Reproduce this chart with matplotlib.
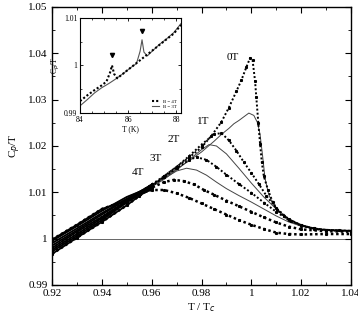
import matplotlib
matplotlib.use('Agg')
import matplotlib.pyplot as plt

plt.rcParams['font.family'] = ['Liberation Serif', 'DejaVu Serif']

# ---- main panel: C_p/T vs T/Tc for several fields ----
fields = ['0T', '1T', '1.5T', '2T', '2.5T', '3T', '3.5T', '4T']
dotted = {'0T': True, '1T': False, '1.5T': True, '2T': False,
          '2.5T': True, '3T': False, '3.5T': True, '4T': True}

t_0 = [0.920, 0.930, 0.940, 0.950, 0.960, 0.965, 0.970, 0.975, 0.980, 0.984, 0.988,
       0.991, 0.994, 0.996, 0.998, 0.9995, 1.0005, 1.0015, 1.002, 1.0028, 1.0035,
       1.0042, 1.005, 1.0067, 1.0085, 1.0105, 1.013, 1.016, 1.020, 1.025, 1.030, 1.040]
c_0 = [0.9980, 1.0015, 1.0047, 1.0082, 1.0117, 1.0135, 1.0155, 1.0175, 1.0197, 1.0222, 1.0252,
       1.0283, 1.0318, 1.0342, 1.0370, 1.0390, 1.0385, 1.0340, 1.0305, 1.0250, 1.0205,
       1.0165, 1.0135, 1.0105, 1.0080, 1.0062, 1.0048, 1.0038, 1.0029, 1.0022, 1.0019, 1.0017]

t_1 = [0.920, 0.930, 0.940, 0.950, 0.960, 0.965, 0.970, 0.975, 0.980, 0.985, 0.988, 0.991,
       0.993, 0.995, 0.997, 0.999, 1.001, 1.0025, 1.0035, 1.0045, 1.0055, 1.007, 1.009,
       1.012, 1.016, 1.020, 1.025, 1.030, 1.040]
c_1 = [0.9990, 1.0022, 1.0055, 1.0086, 1.0116, 1.0132, 1.0150, 1.0168, 1.0187, 1.0210, 1.0225, 1.0238,
       1.0248, 1.0255, 1.0263, 1.0271, 1.0266, 1.0250, 1.0225, 1.0180, 1.0130, 1.0095, 1.0072,
       1.0053, 1.0038, 1.0029, 1.0022, 1.0019, 1.0017]

t_15 = [0.920, 0.930, 0.940, 0.950, 0.960, 0.965, 0.970, 0.975, 0.980, 0.985, 0.988, 0.991,
        0.994, 0.997, 1.000, 1.003, 1.006, 1.010, 1.015, 1.020, 1.025, 1.030, 1.035, 1.040]
c_15 = [0.9972, 1.0006, 1.0040, 1.0078, 1.0112, 1.0135, 1.0155, 1.0178, 1.0203, 1.0225, 1.0228, 1.0212,
        1.0190, 1.0165, 1.0142, 1.0118, 1.0093, 1.0066, 1.0042, 1.0029, 1.0022, 1.0019, 1.0018, 1.0017]

t_2 = [0.920, 0.930, 0.940, 0.950, 0.960, 0.965, 0.970, 0.975, 0.980, 0.983, 0.986, 0.990,
       0.995, 1.000, 1.005, 1.010, 1.015, 1.020, 1.025, 1.030, 1.040]
c_2 = [0.9995, 1.0027, 1.0060, 1.0090, 1.0112, 1.0128, 1.0148, 1.0170, 1.0192, 1.0203, 1.0200, 1.0183,
       1.0152, 1.0120, 1.0090, 1.0064, 1.0043, 1.0030, 1.0023, 1.0019, 1.0017]

t_25 = [0.920, 0.930, 0.940, 0.950, 0.960, 0.965, 0.970, 0.975, 0.978, 0.982, 0.986, 0.990,
        0.995, 1.000, 1.005, 1.010, 1.015, 1.020, 1.025, 1.030, 1.040]
c_25 = [0.9976, 1.0010, 1.0044, 1.0080, 1.0115, 1.0132, 1.0152, 1.0170, 1.0176, 1.0170, 1.0155, 1.0138,
        1.0118, 1.0099, 1.0078, 1.0058, 1.0040, 1.0028, 1.0021, 1.0018, 1.0016]

t_3 = [0.920, 0.930, 0.940, 0.950, 0.960, 0.965, 0.970, 0.974, 0.978, 0.982, 0.986, 0.990,
       0.995, 1.000, 1.005, 1.010, 1.015, 1.020, 1.025, 1.030, 1.040]
c_3 = [0.9985, 1.0018, 1.0052, 1.0085, 1.0113, 1.0130, 1.0146, 1.0152, 1.0148, 1.0137, 1.0122, 1.0108,
       1.0093, 1.0079, 1.0064, 1.0049, 1.0036, 1.0027, 1.0021, 1.0018, 1.0016]

t_35 = [0.920, 0.930, 0.940, 0.950, 0.955, 0.960, 0.965, 0.969, 0.973, 0.977, 0.981, 0.985,
        0.990, 0.995, 1.000, 1.005, 1.010, 1.015, 1.020, 1.030, 1.040]
c_35 = [0.9967, 1.0002, 1.0036, 1.0072, 1.0092, 1.0110, 1.0122, 1.0127, 1.0124, 1.0117, 1.0105, 1.0095,
        1.0082, 1.0070, 1.0058, 1.0046, 1.0035, 1.0026, 1.0020, 1.0016, 1.0015]

t_4 = [0.920, 0.930, 0.940, 0.950, 0.955, 0.960, 0.965, 0.970, 0.975, 0.980, 0.985, 0.990,
       0.995, 1.000, 1.005, 1.010, 1.015, 1.020, 1.030, 1.040]
c_4 = [0.9998, 1.0030, 1.0064, 1.0083, 1.0097, 1.0105, 1.0105, 1.0098, 1.0088, 1.0076, 1.0064, 1.0052,
       1.0040, 1.0030, 1.0021, 1.0013, 1.0010, 1.0009, 1.0010, 1.0010]

curves = {'0T': (t_0, c_0), '1T': (t_1, c_1), '1.5T': (t_15, c_15), '2T': (t_2, c_2),
          '2.5T': (t_25, c_25), '3T': (t_3, c_3), '3.5T': (t_35, c_35), '4T': (t_4, c_4)}

labels = ['0T', '1T', '2T', '3T', '4T']
label_x = [0.9927, 0.9807, 0.9687, 0.9615, 0.9545]
label_y = [1.0390, 1.0252, 1.0213, 1.0174, 1.0142]

# ---- inset: C_p/T vs T (K) near the transition, B = 4T and 3T ----
ti_4 = [84.0, 84.3, 84.6, 84.9, 85.1, 85.25, 85.33, 85.42, 85.55, 85.8, 86.1, 86.4,
        86.7, 87.0, 87.3, 87.6, 87.9, 88.2]
ci_4 = [0.9925, 0.9937, 0.9948, 0.9958, 0.9966, 0.9985, 1.0000, 0.9982, 0.9973, 0.9983, 0.9995, 1.0007,
        1.0019, 1.0031, 1.0043, 1.0055, 1.0067, 1.0085]
ti_3 = [84.0, 84.3, 84.6, 84.9, 85.2, 85.5, 85.8, 86.1, 86.35, 86.5, 86.58, 86.66, 86.8,
        87.0, 87.3, 87.6, 87.9, 88.2]
ci_3 = [0.9915, 0.9928, 0.9942, 0.9953, 0.9962, 0.9972, 0.9983, 0.9995, 1.0004, 1.0030, 1.0054, 1.0028, 1.0020,
        1.0030, 1.0044, 1.0056, 1.0069, 1.0088]
arrow_t = [85.33, 86.58]
arrow_c = [1.0022, 1.0072]

fig = plt.figure(figsize=(3.58, 3.20), dpi=100)
ax = fig.add_axes([0.1453, 0.1094, 0.8351, 0.8688])

ax.axhline(1.0, color='#666666', lw=0.7, zorder=1)

for f in fields:
    t, c = curves[f]
    if dotted[f]:
        lw = 1.8 if f in ('3.5T', '4T') else 1.4
        ax.plot(t, c, color='black', lw=lw, linestyle=(0, (1, 1.1)), zorder=3)
        ax.plot(t, c, color='black', lw=0, marker='s', ms=1.2, zorder=3)
    else:
        ax.plot(t, c, color='#444444', lw=0.7, zorder=2)
    # all fields overlap below the transition -> dense common band
    n = sum(1 for v in t if v <= 0.96)
    ax.plot(t[:n], c[:n], color='black', lw=1.3, zorder=2)

for lab, lx, ly in zip(labels, label_x, label_y):
    ax.text(lx, ly, lab, fontsize=8, ha='center', va='center')

ax.set_xlim(0.92, 1.04)
ax.set_ylim(0.99, 1.05)
ax.set_xticks([0.92, 0.94, 0.96, 0.98, 1.0, 1.02, 1.04])
ax.set_xticklabels(['0.92', '0.94', '0.96', '0.98', '1', '1.02', '1.04'])
ax.set_yticks([0.99, 1.0, 1.01, 1.02, 1.03, 1.04, 1.05])
ax.set_yticklabels(['0.99', '1', '1.01', '1.02', '1.03', '1.04', '1.05'])
ax.set_xticks([0.93, 0.95, 0.97, 0.99, 1.01, 1.03], minor=True)
ax.set_yticks([0.995, 1.005, 1.015, 1.025, 1.035, 1.045], minor=True)
ax.tick_params(which='both', direction='in', top=True, right=True, labelsize=8, pad=3)
ax.tick_params(which='major', length=4, width=0.8)
ax.tick_params(which='minor', length=2, width=0.6)
for s in ax.spines.values():
    s.set_linewidth(1.0)
ax.set_xlabel('T / T$_c$', fontsize=8, labelpad=2)
ax.set_ylabel('C$_p$/T', fontsize=8, labelpad=4)

# inset
ins = fig.add_axes([0.2235, 0.647, 0.282, 0.297])
ins.plot(ti_3, ci_3, color='#555555', lw=0.8, label='B = 3T')
ins.plot(ti_4, ci_4, color='black', lw=1.5, linestyle=(0, (1, 1)), label='B = 4T')
ins.plot(arrow_t, arrow_c, linestyle='none', marker='v', ms=3, color='black')
ins.set_xlim(84, 88.2)
ins.set_ylim(0.99, 1.01)
ins.set_xticks([84, 86, 88])
ins.set_yticks([0.99, 1.0, 1.01])
ins.set_yticklabels(['0.99', '1', '1.01'])
ins.set_xticks([84.5, 85, 85.5, 86.5, 87, 87.5], minor=True)
ins.set_yticks([0.995, 1.005], minor=True)
ins.tick_params(which='both', direction='in', top=True, right=True, labelsize=5.5, pad=2)
ins.tick_params(which='major', length=2.5, width=0.6)
ins.tick_params(which='minor', length=1.2, width=0.5)
for s in ins.spines.values():
    s.set_linewidth(0.8)
ins.set_xlabel('T (K)', fontsize=5.5, labelpad=1)
ins.set_ylabel('C$_p$/T', fontsize=5.5, labelpad=1)
h, l = ins.get_legend_handles_labels()
ins.legend(h[::-1], l[::-1], loc='lower right', fontsize=3.5, frameon=False,
           handlelength=1.5, borderpad=0.3, labelspacing=0.2)

fig.savefig('out.png', dpi=100)
plt.close(fig)
